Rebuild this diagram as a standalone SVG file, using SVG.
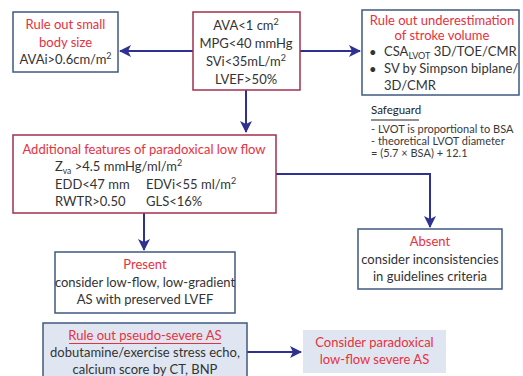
<svg xmlns="http://www.w3.org/2000/svg" width="523" height="376" viewBox="0 0 523 376">
<style>
text{font-family:Lato,"Open Sans","Liberation Sans",sans-serif;font-size:13px;fill:#333}
.r{fill:#e8303e}
.c{text-anchor:middle}
.bb{fill:#fff;stroke:#3f5a80;stroke-width:1.5}
.br{fill:#fff;stroke:#a3304f;stroke-width:1.5}
.bf{fill:#dfe6f1;stroke:#3f5a80;stroke-width:1.5}
.ln{fill:none;stroke:#2e3192;stroke-width:2}
.sg{font-size:11px;fill:#3a3a3a}
.sup{font-size:9px}
</style>
<defs>
<marker id="ah" viewBox="0 0 12 12" refX="11" refY="6" markerWidth="6" markerHeight="6" orient="auto" markerUnits="strokeWidth">
<path d="M0,0 L12,6 L0,12 L3,6 Z" fill="#2e3192"/>
</marker>
</defs>
<g id="connectors">
<line class="ln" x1="193" y1="51" x2="120" y2="51" marker-end="url(#ah)"/>
<line class="ln" x1="300" y1="51" x2="360" y2="51" marker-end="url(#ah)"/>
<line class="ln" x1="246" y1="90" x2="246" y2="132" marker-end="url(#ah)"/>
<polyline class="ln" points="276,174 430,174 430,227" marker-end="url(#ah)"/>
<line class="ln" x1="144" y1="213" x2="144" y2="250" marker-end="url(#ah)"/>
<line class="ln" x1="247" y1="352" x2="301" y2="352" marker-end="url(#ah)"/>
</g>
<g id="small-body">
<rect class="bb" x="13" y="12" width="105" height="60"/>
<text class="r c" x="65.5" y="29">Rule out small</text>
<text class="r c" x="65.5" y="47">body size</text>
<text class="c" x="65.5" y="64">AVAi&gt;0.6cm/m<tspan class="sup" dy="-5">2</tspan></text>
</g>
<g id="criteria">
<rect class="br" x="193" y="12" width="107" height="78"/>
<text class="c" x="246" y="30">AVA&lt;1 cm<tspan class="sup" dy="-5">2</tspan></text>
<text class="c" x="246" y="48">MPG&lt;40 mmHg</text>
<text class="c" x="246" y="66">SVi&lt;35mL/m<tspan class="sup" dy="-5">2</tspan></text>
<text class="c" x="246" y="84">LVEF&gt;50%</text>
</g>
<g id="stroke-volume">
<rect class="bb" x="362" y="10" width="157" height="85"/>
<text class="r c" x="442" y="25">Rule out underestimation</text>
<text class="r c" x="442" y="40">of stroke volume</text>
<text x="369" y="57">•</text>
<text x="384" y="56">CSA<tspan class="sup" dy="3">LVOT</tspan><tspan dy="-3"> 3D/TOE/CMR</tspan></text>
<text x="369" y="74">•</text>
<text x="384" y="73">SV by Simpson biplane/</text>
<text x="384" y="90">3D/CMR</text>
</g>
<g id="safeguard">
<text x="371" y="114" style="font-size:11.5px;fill:#222">Safeguard</text>
<line x1="371" y1="120" x2="419" y2="120" stroke="#222" stroke-width="1"/>
<text class="sg" x="371" y="133">- LVOT is proportional to  BSA</text>
<text class="sg" x="371" y="145">- theoretical LVOT diameter</text>
<text class="sg" x="371" y="157">= (5.7 × BSA) + 12.1</text>
</g>
<g id="additional">
<rect class="br" x="13" y="135" width="263" height="78"/>
<text class="r c" x="144" y="154">Additional features of paradoxical low flow</text>
<text x="55" y="171">Z<tspan style="font-size:8.5px" dy="3">va</tspan><tspan dy="-3"> &gt;4.5 mmHg/ml/m</tspan><tspan class="sup" dy="-5">2</tspan></text>
<text x="55" y="189">EDD&lt;47 mm</text>
<text x="146" y="189">EDVi&lt;55 ml/m<tspan class="sup" dy="-5">2</tspan></text>
<text x="55" y="206">RWTR&gt;0.50</text>
<text x="146" y="206">GLS&lt;16%</text>
</g>
<g id="present">
<rect class="bb" x="55" y="252" width="180" height="61"/>
<text class="r c" x="145" y="269">Present</text>
<text class="c" x="145" y="287">consider low-flow, low-gradient</text>
<text class="c" x="145" y="304">AS with preserved LVEF</text>
</g>
<g id="absent">
<rect class="bb" x="358" y="229" width="144" height="60"/>
<text class="r c" x="430" y="246">Absent</text>
<text class="c" x="430" y="264">consider inconsistencies</text>
<text class="c" x="430" y="281">in guidelines criteria</text>
</g>
<g id="pseudo-severe">
<rect class="bf" x="43" y="323" width="204" height="60"/>
<text class="r c" x="145" y="340">Rule out pseudo-severe AS</text>
<line x1="69" y1="343.5" x2="221" y2="343.5" stroke="#e8303e" stroke-width="1"/>
<text class="c" x="145" y="357">dobutamine/exercise stress echo,</text>
<text class="c" x="145" y="374">calcium score by CT, BNP</text>
</g>
<g id="paradoxical">
<rect x="303" y="330" width="143" height="43" fill="#dfe6f1"/>
<text class="r c" x="374.5" y="347">Consider paradoxical</text>
<text class="r c" x="374.5" y="364">low-flow severe AS</text>
</g>
</svg>
